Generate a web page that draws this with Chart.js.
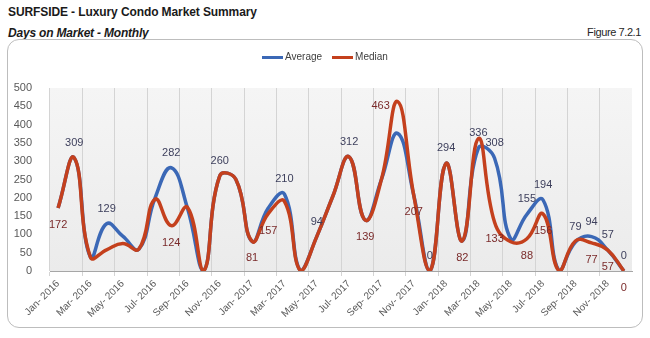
<!DOCTYPE html>
<html>
<head>
<meta charset="utf-8">
<script src="https://cdn.jsdelivr.net/npm/chart.js@4.4.0/dist/chart.umd.min.js"></script>
<style>
  body { margin: 0; background: #fff; width: 650px; height: 338px; position: relative; overflow: hidden; font-family: "Liberation Sans", Arial, sans-serif; }
  #titulo { position: absolute; left: 8px; top: 5px; font-size: 12px; font-weight: bold; color: #1a1a1a; letter-spacing: -0.1px; }
  #subtitulo { position: absolute; left: 8px; top: 26px; font-size: 12px; font-weight: bold; font-style: italic; color: #1a1a1a; letter-spacing: -0.2px; }
  #figura { position: absolute; right: 9px; top: 26px; font-size: 11px; color: #262626; letter-spacing: -0.4px; }
  #caixa { position: absolute; left: 7px; top: 39px; width: 636px; height: 289px; box-sizing: border-box; border: 1px solid #bdbdbd; border-radius: 12px; }
  #caixa canvas { position: absolute; left: 0; top: 0; }
  #legenda { position: absolute; left: 254px; top: 11px; font-size: 10px; color: #404040; white-space: nowrap; }
  #legenda span.linha { display: inline-block; width: 21px; height: 3px; vertical-align: middle; margin-right: 2px; }
  #legenda span.item { margin-right: 10px; }
</style>
</head>
<body>
<div id="titulo">SURFSIDE - Luxury Condo Market Summary</div>
<div id="subtitulo">Days on Market - Monthly</div>
<div id="figura">Figure 7.2.1</div>
<div id="caixa">
  <canvas id="graficoDias" width="634" height="287"></canvas>
  <div id="legenda"></div>
</div>

<script>
// meses (Jan-2016 .. Dec-2018)
const meses = ["Jan", "Feb", "Mar", "Apr", "May", "Jun", "Jul", "Aug", "Sep", "Oct", "Nov", "Dec"];
const anos = [2016, 2017, 2018];

// dias no mercado - media
const media = [
    172, 309, 38, 129, 95, 60, 200, 282, 172, 0, 260, 250,
    81, 172, 210, 0, 94, 205, 312, 139, 250, 376, 207, 0,
    294, 82, 336, 308, 88, 155, 194, 0, 79, 94, 57, 0
];

// dias no mercado - mediana
const mediana = [
    172, 309, 38, 58, 75, 60, 196, 124, 174, 0, 260, 250,
    81, 157, 190, 0, 94, 205, 312, 139, 250, 463, 207, 0,
    294, 82, 362, 133, 80, 88, 156, 0, 82, 77, 57, 0
];

// pontos que levam rotulo de valor
const rotulosMedia = [1, 3, 7, 10, 14, 16, 18, 23, 24, 26, 27, 29, 30, 32, 33, 34, 35];
const rotulosMediana = [0, 7, 12, 13, 19, 21, 22, 25, 27, 29, 30, 33, 34, 35];

const categorias = [];
anos.forEach(ano => meses.forEach(m => categorias.push(m + "- " + ano)));

// fundo cinza da area do grafico
const fundoPlugin = {
    id: "fundo",
    beforeDraw(chart) {
        const { ctx, chartArea: a } = chart;
        const grad = ctx.createLinearGradient(0, a.top, 0, a.bottom);
        grad.addColorStop(0, "#f5f5f5");
        grad.addColorStop(1, "#ebebeb");
        ctx.save();
        ctx.fillStyle = grad;
        ctx.fillRect(a.left, a.top, a.right - a.left, a.bottom - a.top);
        ctx.restore();
    }
};

// rotulos de dados estilo Excel
const rotulosPlugin = {
    id: "rotulos",
    afterDatasetsDraw(chart) {
        const ctx = chart.ctx;
        ctx.save();
        ctx.font = '11px "Liberation Sans", Arial, sans-serif';
        ctx.textAlign = "center";
        ctx.textBaseline = "middle";

        const metaMedia = chart.getDatasetMeta(0);
        ctx.fillStyle = "#3d3f5c";
        rotulosMedia.forEach(i => {
            const p = metaMedia.data[i];
            ctx.fillText(String(media[i]), p.x, p.y - 15);
        });

        const metaMediana = chart.getDatasetMeta(1);
        ctx.fillStyle = "#7a2a2a";
        rotulosMediana.forEach(i => {
            const p = metaMediana.data[i];
            if (i === 21) {
                ctx.fillText(String(mediana[i]), p.x - 17, p.y + 4);
            } else {
                ctx.fillText(String(mediana[i]), p.x, p.y + 17);
            }
        });
        ctx.restore();
    }
};

// legenda em HTML
const legendaPlugin = {
    id: "legendaHtml",
    afterUpdate(chart) {
        const itens = chart.data.datasets.map(ds =>
            `<span class="item"><span class="linha" style="background:${ds.borderColor}"></span>${ds.label}</span>`
        );
        document.getElementById("legenda").innerHTML = itens.join("");
    }
};

const ctx = document.getElementById("graficoDias").getContext("2d");
new Chart(ctx, {
    type: "line",
    data: {
        labels: categorias,
        datasets: [
            {
                label: "Average",
                data: media,
                borderColor: "#3b68b6",
                backgroundColor: "#3b68b6",
                borderWidth: 3.5,
                pointRadius: 0,
                tension: 0.45,
                order: 1
            },
            {
                label: "Median",
                data: mediana,
                borderColor: "#c4401d",
                backgroundColor: "#c4401d",
                borderWidth: 3.5,
                pointRadius: 0,
                tension: 0.45,
                order: 0
            }
        ]
    },
    options: {
        responsive: false,
        animation: false,
        layout: { padding: { top: 48, right: 10, left: 0, bottom: 0 } },
        plugins: {
            tooltip: { enabled: false },
            legend: { display: false }
        },
        scales: {
            x: {
                offset: true,
                grid: {
                    offset: true,
                    color: c => (c.index % 2 === 0 ? "#d4d4d4" : "rgba(0,0,0,0)"),
                    tickLength: 5
                },
                border: { color: "#a6a6a6" },
                ticks: {
                    autoSkip: false,
                    minRotation: 45,
                    maxRotation: 45,
                    padding: 2,
                    color: "#595959",
                    font: { family: '"Liberation Sans", Arial, sans-serif', size: 10 },
                    callback: function (v, i) { return i % 2 === 0 ? this.getLabelForValue(v) : ""; }
                },
                afterFit: s => { s.height = 56; }
            },
            y: {
                min: 0,
                max: 500,
                grid: { display: false },
                border: { display: false },
                ticks: {
                    stepSize: 50,
                    padding: 10,
                    color: "#595959",
                    font: { family: '"Liberation Sans", Arial, sans-serif', size: 11 }
                },
                afterFit: s => { s.width = 42; }
            }
        }
    },
    plugins: [fundoPlugin, rotulosPlugin, legendaPlugin]
});
</script>
</body>
</html>
